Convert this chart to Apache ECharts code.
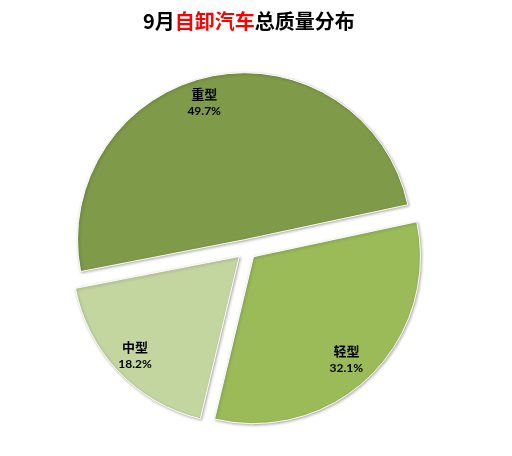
<!DOCTYPE html>
<html>
<head>
<meta charset="utf-8">
<script src="https://cdn.jsdelivr.net/npm/echarts@6/dist/echarts.min.js"></script>
<style>
  html, body { margin: 0; padding: 0; background: #ffffff; }
  #chart { width: 512px; height: 456px; }
</style>
</head>
<body>
<div id="chart"></div>
<script>
// Data (clockwise order starting from the left side)
const categories = ['重型', '轻型', '中型'];
const shares = [49.7, 32.1, 18.2];
const sliceColors = ['#7F9A48', '#9BBB59', '#C4D6A0'];
const titleParts = ['9月', '自卸汽车', '总质量分布'];

const chart = echarts.init(document.getElementById('chart'), null, { renderer: 'canvas' });

const cx = 246.5, cy = 249.5, R = 167;
const labelNudgeX = [-12, -6, -2];

const pieData = categories.map((c, i) => ({
  name: c,
  value: shares[i],
  selected: true,
  itemStyle: { color: sliceColors[i] }
}));

const labelData = categories.map((c, i) => ({
  name: c,
  value: shares[i],
  selected: true
}));

chart.setOption({
  backgroundColor: '#ffffff',
  animation: false,
  title: {
    text: '{a|' + titleParts[0] + '}{b|' + titleParts[1] + '}{a|' + titleParts[2] + '}',
    left: 138,
    top: 6,
    textStyle: {
      rich: {
        a: { fontSize: 20, fontWeight: 'bold', color: '#000000', fontFamily: '"Noto Sans CJK SC", sans-serif' },
        b: { fontSize: 20, fontWeight: 'bold', color: '#FF0000', fontFamily: '"Noto Sans CJK SC", sans-serif' }
      }
    }
  },
  series: [
    {
      type: 'pie',
      center: [cx, cy],
      radius: [0, R],
      startAngle: 191,
      clockwise: true,
      selectedMode: 'multiple',
      selectedOffset: 10,
      silent: true,
      avoidLabelOverlap: false,
      label: { show: false },
      labelLine: { show: false },
      emphasis: { disabled: true },
      itemStyle: {
        borderColor: '#ffffff',
        borderWidth: 1,
        shadowBlur: 3,
        shadowOffsetX: 1,
        shadowOffsetY: 1,
        shadowColor: 'rgba(0,0,0,0.3)'
      },
      data: pieData
    },
    {
      type: 'pie',
      center: [cx, cy],
      radius: [R * 0.66, R],
      startAngle: 191,
      clockwise: true,
      selectedMode: 'multiple',
      selectedOffset: 10,
      silent: true,
      avoidLabelOverlap: false,
      itemStyle: { color: 'rgba(0,0,0,0)' },
      emphasis: { disabled: true },
      labelLine: { show: false },
      labelLayout: function (p) { return { dx: labelNudgeX[p.dataIndex], dy: 1 }; },
      label: {
        show: true,
        position: 'inside',
        formatter: function (p) { return '{n|' + p.name + '}\n{v|' + p.value.toFixed(1) + '%}'; },
        rich: {
          n: { fontSize: 13, fontWeight: 'bold', color: '#000000', fontFamily: '"Noto Sans CJK SC", sans-serif', lineHeight: 18 },
          v: { fontSize: 12, fontWeight: 'bold', color: '#000000', fontFamily: 'Lato, "Open Sans", sans-serif', lineHeight: 16 }
        }
      },
      data: labelData
    }
  ]
});
</script>
</body>
</html>
